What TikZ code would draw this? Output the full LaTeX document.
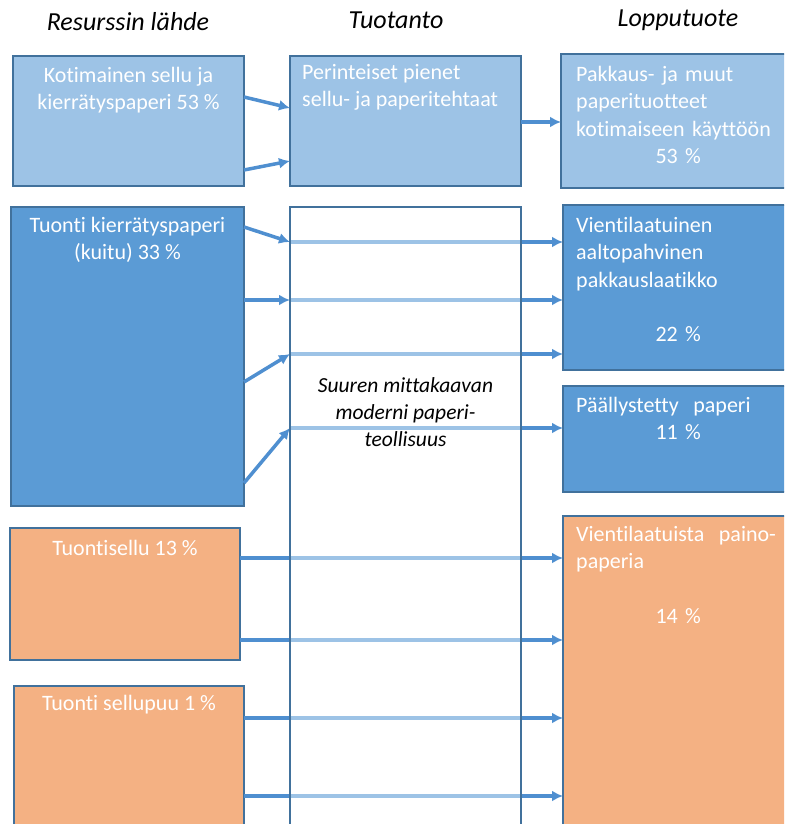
\documentclass[tikz,border=0pt]{standalone}
\usepackage{fontspec}
\setmainfont{Carlito}[Ligatures=NoCommon]
\usepackage{tikz}
\usetikzlibrary{arrows.meta}
\usetikzlibrary{positioning}
\definecolor{vaalea}{HTML}{9DC3E6}
\definecolor{keski}{HTML}{5B9BD5}
\definecolor{nuoli}{HTML}{4F8FD0}
\definecolor{oranssi}{HTML}{F4B183}
\definecolor{reuna}{HTML}{41719C}
\def\pros#1{\hspace*{\fill}#1~\%\hspace*{\fill}}

\begin{document}
\begin{tikzpicture}[x=1pt,y=-1pt,
  box/.style={draw=reuna,line width=1.5pt,anchor=north west,inner sep=0pt,outer sep=0pt},
  txt/.style={text=white,font=\fontsize{22}{27.5}\selectfont,inner sep=0pt,anchor=north},
  otsikko/.style={font=\fontsize{26}{30}\selectfont\itshape},
  flow/.style={-{Latex[length=11pt,width=11pt]},line width=3.5pt,draw=nuoli},
  thru/.style={line width=3.5pt,draw=vaalea}]
\useasboundingbox (0,0) rectangle (784,824);
\clip (0,0) rectangle (784,824);

\draw[] (128,22) node[otsikko] (lahde) {Resurssin lähde};
\draw[] (396,20) node[otsikko] (tuotanto) {Tuotanto};
\draw[] (678,20) node[otsikko] (lopputuote) {Lopputuote};

% boxes
\draw[] (13,56) node[box,fill=vaalea,minimum width=231pt,minimum height=130pt] (kotim) {};
\draw[] (290,56) node[box,fill=vaalea,minimum width=231pt,minimum height=130pt] (perint) {};
\draw[] (561,54) node[box,fill=vaalea,minimum width=235pt,minimum height=134pt] (pakkaus) {};
\draw[] (11,207) node[box,fill=keski,minimum width=233pt,minimum height=299pt] (kierr) {};
\draw[] (290,207) node[box,fill=white,minimum width=231pt,minimum height=640pt] (moderni) {};
\draw[] (563,205) node[box,fill=keski,minimum width=233pt,minimum height=165pt] (aalto) {};
\draw[] (563,386) node[box,fill=keski,minimum width=233pt,minimum height=106pt] (paall) {};
\draw[] (10,528) node[box,fill=oranssi,minimum width=230pt,minimum height=132pt] (sellu) {};
\draw[] (14,686) node[box,fill=oranssi,minimum width=230pt,minimum height=160pt] (sellupuu) {};
\draw[] (563,516) node[box,fill=oranssi,minimum width=233pt,minimum height=330pt] (paino) {};

% texts
\node[txt,align=center,below=11pt of kotim.north] (kotimt) {Kotimainen sellu ja\\kierrätyspaperi 53~\%};
\node[txt,align=left,anchor=north west] (perintt) at (302,64) {Perinteiset pienet\\sellu- ja paperitehtaat};
\node[txt,align=left,text width=204pt,anchor=north west] (pakkaust) at (576,66) {Pakkaus- ja muut\\paperituotteet\\kotimaiseen käyttöön\\\pros{53}};
\node[txt,align=center,below=10pt of kierr.north] (kierrt) {Tuonti kierrätyspaperi\\(kuitu) 33~\%};
\node[txt,align=center,text=black,font=\fontsize{21.5}{27}\selectfont\itshape,below=170pt of moderni.north] (modernit) {Suuren mittakaavan\\moderni paperi-\\teollisuus};
\node[txt,align=left,text width=204pt,anchor=north west] (aaltot) at (576,217) {Vientilaatuinen\\aaltopahvinen\\pakkauslaatikko\\[27pt]\pros{22}};
\node[txt,align=left,text width=204pt,anchor=north west] (paallt) at (576,397) {Päällystetty~ paperi\\\pros{11}};
\node[txt,align=center,below=12pt of sellu.north] (sellut) {Tuontisellu 13~\%};
\node[txt,align=center,below=9pt of sellupuu.north] (sellupuut) {Tuonti sellupuu 1~\%};
\node[txt,align=left,text width=204pt,anchor=north west] (painot) at (576,526) {Vientilaatuista~ paino-\\paperia\\[27pt]\pros{14}};

% arrows
\draw[flow] (kotim.east |- 0,97) -- (perint.west |- 0,108);
\draw[flow] (kotim.east |- 0,170) -- (perint.west |- 0,161);
\draw[flow] (perint.east |- 0,122) -- (pakkaus.west |- 0,122);

\draw[flow] (kierr.east |- 0,227) -- (moderni.west |- 0,242);
\draw[thru] (moderni.west |- 0,242) -- (moderni.east |- 0,242);
\draw[flow] (moderni.east |- 0,242) -- (aalto.west |- 0,242);
\draw[flow] (kierr.east |- 0,300) -- (moderni.west |- 0,300);
\draw[thru] (moderni.west |- 0,300) -- (moderni.east |- 0,300);
\draw[flow] (moderni.east |- 0,300) -- (aalto.west |- 0,300);
\draw[flow] (kierr.east |- 0,382) -- (moderni.west |- 0,354);
\draw[thru] (moderni.west |- 0,354) -- (moderni.east |- 0,354);
\draw[flow] (moderni.east |- 0,354) -- (aalto.west |- 0,354);
\draw[flow] (kierr.east |- 0,483) -- (moderni.west |- 0,428);
\draw[thru] (moderni.west |- 0,428) -- (moderni.east |- 0,428);
\draw[flow] (moderni.east |- 0,428) -- (paall.west |- 0,428);

\draw[flow] (sellu.east |- 0,558) -- (paino.west |- 0,558);
\draw[thru] (moderni.west |- 0,558) -- (moderni.east |- 0,558);
\draw[flow] (sellu.east |- 0,640) -- (paino.west |- 0,640);
\draw[thru] (moderni.west |- 0,640) -- (moderni.east |- 0,640);
\draw[flow] (sellupuu.east |- 0,718) -- (paino.west |- 0,718);
\draw[thru] (moderni.west |- 0,718) -- (moderni.east |- 0,718);
\draw[flow] (sellupuu.east |- 0,796) -- (paino.west |- 0,796);
\draw[thru] (moderni.west |- 0,796) -- (moderni.east |- 0,796);

\draw[draw=reuna,line width=1.5pt] (moderni.north west) rectangle (moderni.south east);
\end{tikzpicture}
\end{document}
